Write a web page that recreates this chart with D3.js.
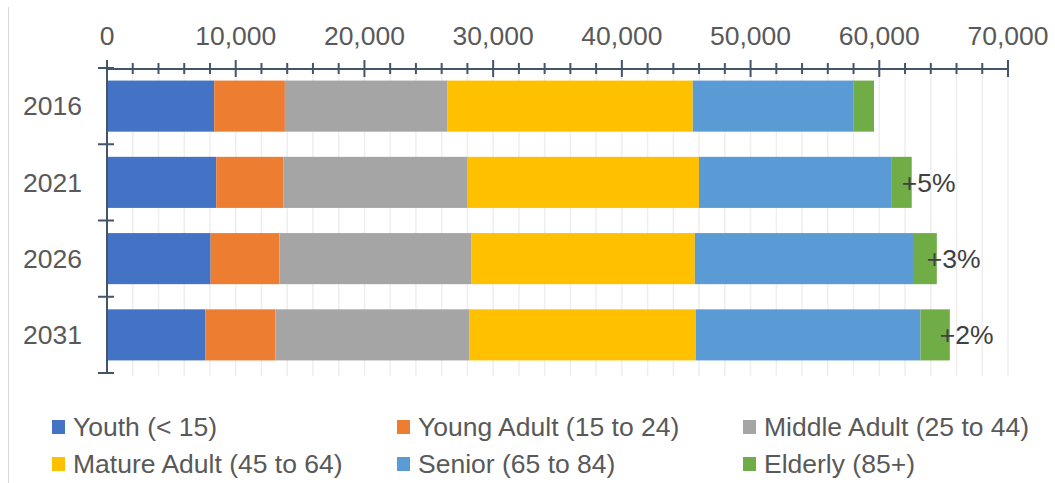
<!DOCTYPE html>
<html>
<head>
<meta charset="utf-8">
<script src="https://cdn.jsdelivr.net/npm/d3@7"></script>
<style>
  body { margin: 0; background: #fff; }
  svg { display: block; font-family: "Liberation Sans", Arial, sans-serif; }
</style>
</head>
<body>
<svg id="chart" width="1055" height="483"></svg>
<script>
// population by age group
var years = ["2016", "2021", "2026", "2031"];
var groups = ["Youth (< 15)", "Young Adult (15 to 24)", "Middle Adult (25 to 44)",
  "Mature Adult (45 to 64)", "Senior (65 to 84)", "Elderly (85+)"];
var youth = [8330, 8490, 8050, 7650];
var youngAdult = [5490, 5230, 5350, 5440];
var middleAdult = [12640, 14300, 14930, 15080];
var matureAdult = [19050, 17970, 17340, 17580];
var senior = [12470, 14930, 16950, 17450];
var elderly = [1610, 1600, 1850, 2280];
var growthLabels = ["", "+5%", "+3%", "+2%"];
var xTicks = [0, 10000, 20000, 30000, 40000, 50000, 60000, 70000];

var colors = ["#4472c4", "#ed7d31", "#a5a5a5", "#ffc000", "#5b9bd5", "#70ad47"];
var series = [youth, youngAdult, middleAdult, matureAdult, senior, elderly];

var rows = years.map(function (y, i) {
  var r = { year: y };
  groups.forEach(function (g, k) { r[g] = series[k][i]; });
  return r;
});

var svg = d3.select("#chart");
var fontSize = 26.5;

var x = d3.scaleLinear().domain([0, 70000]).range([107, 1008]);
var y = d3.scaleBand().domain(years).range([68, 373]).padding(0);
var barPad = y.bandwidth() * 0.165;

// chart area left border
svg.append("line")
  .attr("x1", 8.5).attr("x2", 8.5).attr("y1", 7).attr("y2", 483)
  .attr("stroke", "#d9d9d9").attr("stroke-width", 1);

// gridlines every 2000
var minor = d3.range(2000, 70001, 2000);
svg.append("g").selectAll("line").data(minor).join("line")
  .attr("x1", function (d) { return x(d); })
  .attr("x2", function (d) { return x(d); })
  .attr("y1", 69).attr("y2", 376)
  .attr("stroke", "#eeeeee").attr("stroke-width", 1.5);

// stacked bars
var stack = d3.stack().keys(groups)(rows);
svg.append("g").selectAll("g").data(stack).join("g")
  .attr("fill", function (d, i) { return colors[i]; })
  .selectAll("rect").data(function (d) { return d; }).join("rect")
  .attr("x", function (d) { return x(d[0]); })
  .attr("width", function (d) { return x(d[1]) - x(d[0]); })
  .attr("y", function (d) { return y(d.data.year) + barPad; })
  .attr("height", y.bandwidth() - 2 * barPad);

// top value axis
var axisColor = "#44546a";
var ax = svg.append("g");
ax.append("line")
  .attr("x1", x(0)).attr("x2", x(70000)).attr("y1", 69).attr("y2", 69)
  .attr("stroke", axisColor).attr("stroke-width", 2);
ax.selectAll("line.minor").data(d3.range(0, 70001, 2000)).join("line")
  .attr("class", "minor")
  .attr("x1", function (d) { return x(d); })
  .attr("x2", function (d) { return x(d); })
  .attr("y1", function (d) { return d % 10000 === 0 ? 60 : 63; })
  .attr("y2", function (d) { return d % 10000 === 0 ? 77 : 74; })
  .attr("stroke", axisColor).attr("stroke-width", 2);
ax.selectAll("text").data(xTicks).join("text")
  .attr("x", function (d) { return x(d); })
  .attr("y", 45)
  .attr("text-anchor", "middle")
  .attr("font-size", fontSize)
  .attr("fill", "#595959")
  .text(d3.format(","));

// category axis
var cy = svg.append("g");
cy.append("line")
  .attr("x1", x(0)).attr("x2", x(0)).attr("y1", 68).attr("y2", 373)
  .attr("stroke", axisColor).attr("stroke-width", 2);
var bounds = years.map(function (d) { return y(d); }).concat([y.range()[1]]);
cy.selectAll("line.tick").data(bounds).join("line")
  .attr("class", "tick")
  .attr("x1", x(0) - 9).attr("x2", x(0) + 7)
  .attr("y1", function (d) { return d; }).attr("y2", function (d) { return d; })
  .attr("stroke", axisColor).attr("stroke-width", 2);
cy.selectAll("text").data(years).join("text")
  .attr("x", 82)
  .attr("y", function (d) { return y(d) + y.bandwidth() / 2; })
  .attr("dy", "0.35em")
  .attr("text-anchor", "end")
  .attr("font-size", fontSize)
  .attr("fill", "#595959")
  .text(function (d) { return d; });

// growth labels at the bar ends
svg.append("g").selectAll("text").data(rows).join("text")
  .attr("x", function (d) { return x(d3.sum(groups, function (g) { return d[g]; })) - 10; })
  .attr("y", function (d) { return y(d.year) + y.bandwidth() / 2; })
  .attr("dy", "0.35em")
  .attr("font-size", fontSize)
  .attr("fill", "#404040")
  .text(function (d, i) { return growthLabels[i]; });

// legend
var colX = [52, 397, 743];
var rowY = [427, 464];
var lg = svg.append("g").selectAll("g").data(groups).join("g")
  .attr("transform", function (d, i) {
    return "translate(" + colX[i % 3] + "," + rowY[Math.floor(i / 3)] + ")";
  });
lg.append("rect")
  .attr("x", 0).attr("y", -7).attr("width", 13).attr("height", 14)
  .attr("fill", function (d, i) { return colors[i]; });
lg.append("text")
  .attr("x", 21).attr("y", 0).attr("dy", "0.35em")
  .attr("font-size", fontSize)
  .attr("fill", "#595959")
  .text(function (d) { return d; });
</script>
</body>
</html>
